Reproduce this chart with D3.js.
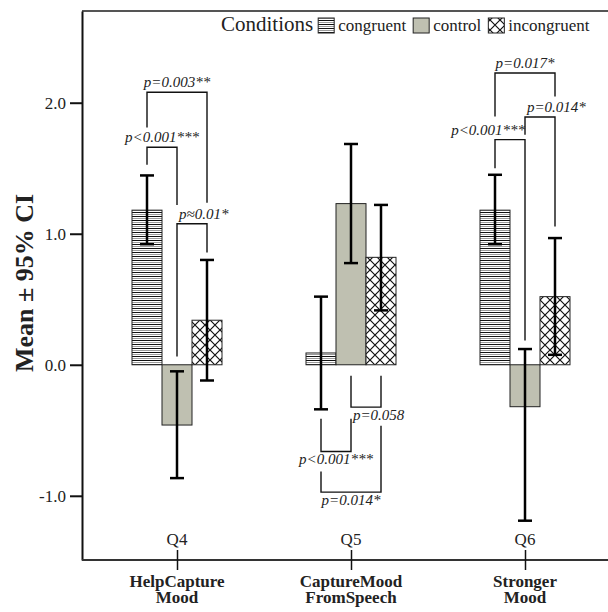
<!DOCTYPE html>
<html>
<head>
<meta charset="utf-8">
<script src="https://cdn.jsdelivr.net/npm/d3@7"></script>
<style>
body { margin: 0; background: #fff; }
text { font-family: "Liberation Serif", "Times New Roman", serif; fill: #222; }
</style>
</head>
<body>
<div class="chart"></div>
<script>
// data
var groups = ["Q4", "Q5", "Q6"];
var groupNames = [["HelpCapture", "Mood"], ["CaptureMood", "FromSpeech"], ["Stronger", "Mood"]];
var conditions = ["congruent", "control", "incongruent"];

var meanCongruent = [1.18, 0.09, 1.18];
var meanControl = [-0.46, 1.23, -0.32];
var meanIncongruent = [0.34, 0.82, 0.52];

var lowCongruent = [0.92, -0.34, 0.92];
var highCongruent = [1.445, 0.52, 1.45];
var lowControl = [-0.865, 0.776, -1.19];
var highControl = [-0.05, 1.685, 0.12];
var lowIncongruent = [-0.12, 0.415, 0.076];
var highIncongruent = [0.80, 1.22, 0.967];

var yTicks = [-1, 0, 1, 2];

// significance brackets: level = horizontal line, endA/endB = where the legs stop
var brackets = [
  {g: "Q4", a: "congruent", b: "incongruent", level: 2.08, endA: 1.81, endB: 1.237, label: "p=0.003**", anchor: "middle"},
  {g: "Q4", a: "congruent", b: "control", level: 1.66, endA: 1.527, endB: 1.22, label: "p<0.001***", anchor: "middle"},
  {g: "Q4", a: "control", b: "incongruent", level: 1.076, endA: 0.063, endB: 0.857, label: "p\u22480.01*", anchor: "start"},
  {g: "Q5", a: "control", b: "incongruent", level: -0.323, endA: -0.084, endB: -0.084, label: "p=0.058", anchor: "start"},
  {g: "Q5", a: "congruent", b: "control", level: -0.662, endA: -0.412, endB: -0.412, label: "p<0.001***", anchor: "middle"},
  {g: "Q5", a: "congruent", b: "incongruent", level: -0.972, endA: -0.815, endB: -0.466, label: "p=0.014*", anchor: "middle"},
  {g: "Q6", a: "congruent", b: "incongruent", level: 2.227, endA: 1.895, endB: 2.048, label: "p=0.017*", anchor: "middle"},
  {g: "Q6", a: "control", b: "incongruent", level: 1.891, endA: 1.756, endB: 1.056, label: "p=0.014*", anchor: "start"},
  {g: "Q6", a: "congruent", b: "control", level: 1.718, endA: 1.50, endB: 0.185, label: "p<0.001***", anchor: "end"}
];

var width = 608, height = 612;
var mLeft = 82, mTop = 11, mBottom = 560;

var means = {congruent: meanCongruent, control: meanControl, incongruent: meanIncongruent};
var lows = {congruent: lowCongruent, control: lowControl, incongruent: lowIncongruent};
var highs = {congruent: highCongruent, control: highControl, incongruent: highIncongruent};

var rows = [];
groups.forEach(function(g, i) {
  conditions.forEach(function(c) {
    rows.push({g: g, c: c, mean: means[c][i], lo: lows[c][i], hi: highs[c][i]});
  });
});

var svg = d3.select(".chart").append("svg")
    .attr("width", width)
    .attr("height", height);

var defs = svg.append("defs");

var pc = defs.append("pattern").attr("id", "pat-congruent")
    .attr("patternUnits", "userSpaceOnUse").attr("width", 6).attr("height", 4);
pc.append("rect").attr("width", 6).attr("height", 4).attr("fill", "#fff");
pc.append("rect").attr("y", 0).attr("width", 6).attr("height", 1).attr("fill", "#111");
pc.append("rect").attr("y", 2).attr("width", 6).attr("height", 1).attr("fill", "#9a9a9a");

var pi = defs.append("pattern").attr("id", "pat-incongruent")
    .attr("patternUnits", "userSpaceOnUse").attr("width", 10).attr("height", 10);
pi.append("rect").attr("width", 10).attr("height", 10).attr("fill", "#fff");
pi.append("path").attr("d", "M-1,-1L11,11M11,-1L-1,11")
    .attr("stroke", "#111").attr("stroke-width", 1.2);

var fills = {congruent: "url(#pat-congruent)", control: "#bfc0b1", incongruent: "url(#pat-incongruent)"};

var y = d3.scaleLinear().domain([-1.49, 2.70]).range([mBottom, mTop]);
var x = d3.scalePoint().domain(groups).range([177, 525]);
var xc = d3.scaleBand().domain(conditions).range([-45, 45]);

function cx(g, c) { return x(g) + xc(c) + xc.bandwidth() / 2; }

// frame top
svg.append("line")
    .attr("x1", mLeft).attr("x2", width)
    .attr("y1", mTop).attr("y2", mTop)
    .attr("stroke", "#555").attr("stroke-width", 2);

// y axis
var yAxis = svg.append("g")
    .attr("transform", "translate(" + mLeft + ",0)")
    .call(d3.axisLeft(y).tickValues(yTicks)
      .tickFormat(function(d) { return d.toFixed(1); })
      .tickSize(12).tickSizeOuter(0).tickPadding(4));
yAxis.select(".domain").attr("stroke", "#111").attr("stroke-width", 2);
yAxis.selectAll(".tick line").attr("stroke", "#111").attr("stroke-width", 2);
yAxis.selectAll(".tick text")
    .style("font-family", '"Liberation Serif", serif')
    .style("font-size", "17px").attr("fill", "#333");

// x axis
svg.append("line")
    .attr("x1", mLeft).attr("x2", width)
    .attr("y1", mBottom).attr("y2", mBottom)
    .attr("stroke", "#333").attr("stroke-width", 2);
var xAxis = svg.append("g")
    .attr("transform", "translate(0," + mBottom + ")")
    .call(d3.axisBottom(x).tickSize(10).tickSizeOuter(0).tickFormat(""));
xAxis.select(".domain").remove();
xAxis.selectAll(".tick line").attr("y1", -10).attr("stroke", "#111").attr("stroke-width", 1.5);

svg.selectAll(".qlabel")
  .data(groups)
  .enter().append("text")
    .attr("class", "qlabel")
    .attr("x", function(d) { return x(d); })
    .attr("y", mBottom - 15)
    .attr("text-anchor", "middle")
    .style("font-size", "17px")
    .text(function(d) { return d; });

var names = svg.selectAll(".gname")
  .data(groups)
  .enter().append("text")
    .attr("class", "gname")
    .attr("text-anchor", "middle")
    .style("font-size", "17px")
    .style("font-weight", "bold");
names.each(function(d, i) {
  var t = d3.select(this);
  groupNames[i].forEach(function(line, j) {
    t.append("tspan")
      .attr("x", x(d))
      .attr("y", mBottom + 27 + j * 16)
      .text(line);
  });
});

// bars
svg.selectAll(".bar")
  .data(rows)
  .enter().append("rect")
    .attr("class", "bar")
    .attr("x", function(d) { return x(d.g) + xc(d.c); })
    .attr("width", xc.bandwidth())
    .attr("y", function(d) { return y(Math.max(0, d.mean)); })
    .attr("height", function(d) { return Math.abs(y(d.mean) - y(0)); })
    .attr("fill", function(d) { return fills[d.c]; })
    .attr("stroke", "#222")
    .attr("stroke-width", 1);

// error bars
var eb = svg.selectAll(".err")
  .data(rows)
  .enter().append("g")
    .attr("class", "err")
    .attr("stroke", "#000")
    .attr("stroke-width", 2.5);
eb.append("line")
    .attr("x1", function(d) { return cx(d.g, d.c); })
    .attr("x2", function(d) { return cx(d.g, d.c); })
    .attr("y1", function(d) { return y(d.lo); })
    .attr("y2", function(d) { return y(d.hi); });
eb.append("line")
    .attr("x1", function(d) { return cx(d.g, d.c) - 7; })
    .attr("x2", function(d) { return cx(d.g, d.c) + 7; })
    .attr("y1", function(d) { return y(d.hi); })
    .attr("y2", function(d) { return y(d.hi); });
eb.append("line")
    .attr("x1", function(d) { return cx(d.g, d.c) - 7; })
    .attr("x2", function(d) { return cx(d.g, d.c) + 7; })
    .attr("y1", function(d) { return y(d.lo); })
    .attr("y2", function(d) { return y(d.lo); });

// significance brackets
var br = svg.selectAll(".bracket")
  .data(brackets)
  .enter().append("g")
    .attr("class", "bracket");
br.append("path")
    .attr("fill", "none")
    .attr("stroke", "#111")
    .attr("stroke-width", 1.4)
    .attr("d", function(d) {
      var xa = cx(d.g, d.a), xb = cx(d.g, d.b);
      return "M" + xa + "," + y(d.endA) + "V" + y(d.level) + "H" + xb + "V" + y(d.endB);
    });
br.append("text")
    .attr("x", function(d) {
      var xa = cx(d.g, d.a), xb = cx(d.g, d.b);
      if (d.anchor == "start") return xa + 2;
      if (d.anchor == "end") return xb;
      return (xa + xb) / 2;
    })
    .attr("y", function(d) {
      return d.level > 0 ? y(d.level) - 5 : y(d.level) + 12.5;
    })
    .attr("text-anchor", function(d) { return d.anchor; })
    .style("font-size", "15px")
    .style("font-style", "italic")
    .attr("fill", "#333")
    .text(function(d) { return d.label; });

// y label
svg.append("text")
    .attr("transform", "translate(33,283) rotate(-90)")
    .attr("text-anchor", "middle")
    .style("font-size", "26px")
    .style("font-weight", "bold")
    .text("Mean \u00b1 95% CI");

// legend
var lg = svg.append("g").attr("class", "legend");
var lx = 221, ly = 31;
var title = lg.append("text")
    .attr("x", lx).attr("y", ly)
    .style("font-size", "21px")
    .text("Conditions");
lx += title.node().getComputedTextLength() + 5;
conditions.forEach(function(c) {
  lg.append("rect")
    .attr("x", lx).attr("y", ly - 13)
    .attr("width", 16).attr("height", 15)
    .attr("fill", fills[c])
    .attr("stroke", "#222");
  lx += 20;
  var t = lg.append("text")
    .attr("x", lx).attr("y", ly)
    .style("font-size", "17px")
    .text(c);
  lx += t.node().getComputedTextLength() + 7;
});
</script>
</body>
</html>
